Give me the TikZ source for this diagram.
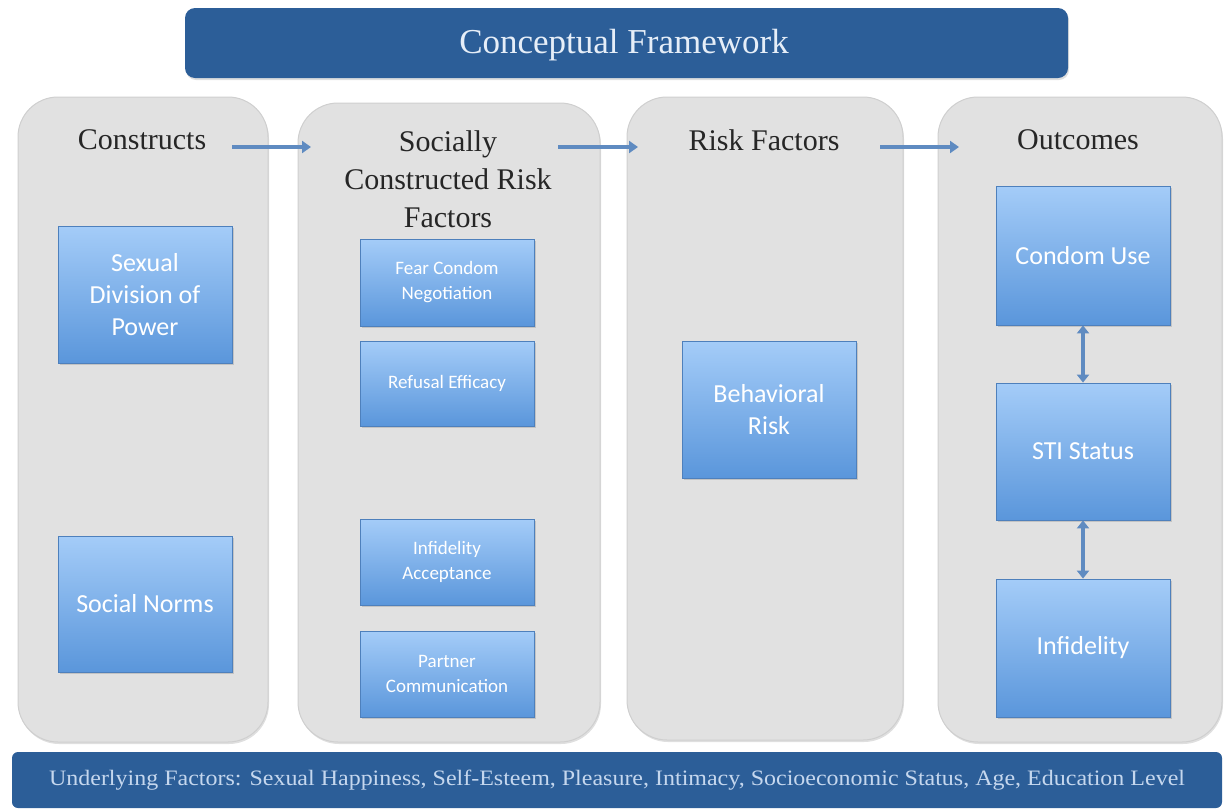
\documentclass[tikz,border=0pt]{standalone}
\usepackage{fontspec}
\setmainfont{Liberation Serif}
\newfontfamily\boxfont{Carlito}
\usetikzlibrary{arrows.meta,shadows}
\definecolor{barblue}{HTML}{2C5E98}
\definecolor{bartext}{HTML}{E6EEF8}
\definecolor{bottext}{HTML}{C5D7EE}
\definecolor{colfill}{HTML}{E1E1E1}
\definecolor{colline}{HTML}{CFCFCF}
\definecolor{boxtop}{HTML}{A4CCF8}
\definecolor{boxbot}{HTML}{5A96DB}
\definecolor{boxline}{HTML}{4E80BC}
\definecolor{arrowblue}{HTML}{5F8BC1}
\definecolor{headtext}{HTML}{262626}
\tikzset{
  colbox/.style={draw=colline, line width=1pt, fill=colfill, rounded corners=40pt,
    drop shadow={shadow xshift=1pt, shadow yshift=-2pt, opacity=0.25}},
  bluebox/.style={draw=boxline, line width=0.8pt, top color=boxtop, bottom color=boxbot,
    text=white, align=center, inner sep=0pt,
    drop shadow={shadow xshift=1.5pt, shadow yshift=-2pt, opacity=0.3}},
  bigtxt/.style={font=\boxfont\fontsize{26}{32}\selectfont},
  smalltxt/.style={font=\boxfont\fontsize{19}{25}\selectfont},
  headtxt/.style={text=headtext, align=center, font=\fontsize{30}{38}\selectfont},
  flow/.style={draw=arrowblue, line width=4pt, -{Triangle[width=12pt,length=9pt]}},
  twoway/.style={draw=arrowblue, line width=3.5pt, {Triangle[width=12pt,length=8pt]}-{Triangle[width=12pt,length=8pt]}}
}
\begin{document}
\begin{tikzpicture}[x=1pt,y=-1pt]
\useasboundingbox (0,0) rectangle (1228,809);
% title bar
\node[draw=none, fill=barblue, rounded corners=10pt, minimum width=883pt, minimum height=70pt,
  drop shadow={shadow xshift=1pt, shadow yshift=-2pt, opacity=0.25}] (title) at (626.5,43) {};
\node[text=bartext, font=\fontsize{35}{38}\selectfont] (titletext) at (624,45) {Conceptual Framework};
% columns
\node[colbox, minimum width=250pt, minimum height=645pt] (col1) at (143,419.5) {};
\node[colbox, minimum width=302pt, minimum height=639pt] (col2) at (449,422.5) {};
\node[colbox, minimum width=276pt, minimum height=643pt] (col3) at (765,418.5) {};
\node[colbox, minimum width=284pt, minimum height=645pt] (col4) at (1080,419.5) {};
% headers
\node[headtxt] (h1) at (142,140) {Constructs};
\node[headtxt] (h2) at (448,179) {Socially\\Constructed Risk\\Factors};
\node[headtxt] (h3) at (764,140) {Risk Factors};
\node[headtxt] (h4) at (1078,140) {Outcomes};
% flow arrows
\coordinate (a1s) at (232,147); \coordinate (a1e) at (311,147);
\coordinate (a2s) at (558,147); \coordinate (a2e) at (638,147);
\coordinate (a3s) at (880,147); \coordinate (a3e) at (959,147);
\draw[flow] (a1s) -- (a1e);
\draw[flow] (a2s) -- (a2e);
\draw[flow] (a3s) -- (a3e);
% constructs
\node[bluebox, bigtxt, minimum width=174pt, minimum height=137pt] (sdp) at (145,294.5) {Sexual\\Division of\\Power};
\node[bluebox, bigtxt, minimum width=174pt, minimum height=136pt] (sn) at (145,604) {Social Norms};
% socially constructed risk factors
\node[bluebox, smalltxt, minimum width=174pt, minimum height=87pt] (fcn) at (447,282.5) {Fear Condom\\Negotiation};
\node[bluebox, smalltxt, minimum width=174pt, minimum height=85pt] (re) at (447,383.5) {Refusal Efficacy};
\node[bluebox, smalltxt, minimum width=174pt, minimum height=86pt] (ia) at (447,562) {Infidelity\\Acceptance};
\node[bluebox, smalltxt, minimum width=174pt, minimum height=86pt] (pc) at (447,674) {Partner\\Communication};
% risk factors
\node[bluebox, bigtxt, minimum width=174pt, minimum height=137pt] (br) at (769,409.5) {Behavioral\\Risk};
% outcomes
\node[bluebox, bigtxt, minimum width=174pt, minimum height=139pt] (cu) at (1083,255.5) {Condom Use};
\node[bluebox, bigtxt, minimum width=174pt, minimum height=137pt] (sti) at (1083,451.5) {STI Status};
\node[bluebox, bigtxt, minimum width=174pt, minimum height=138pt] (inf) at (1083,648) {Infidelity};
\draw[twoway] (cu.south) -- (sti.north);
\draw[twoway] (sti.south) -- (inf.north);
% bottom bar
\node[fill=barblue, rounded corners=6pt, minimum width=1210pt, minimum height=56pt,
  text=bottext] (under) at (617,780)
  {\scalebox{1.09}[1]{\fontsize{22}{26}\selectfont Underlying Factors: Sexual Happiness, Self-Esteem, Pleasure, Intimacy, Socioeconomic Status, Age, Education Level}};
\end{tikzpicture}
\end{document}
